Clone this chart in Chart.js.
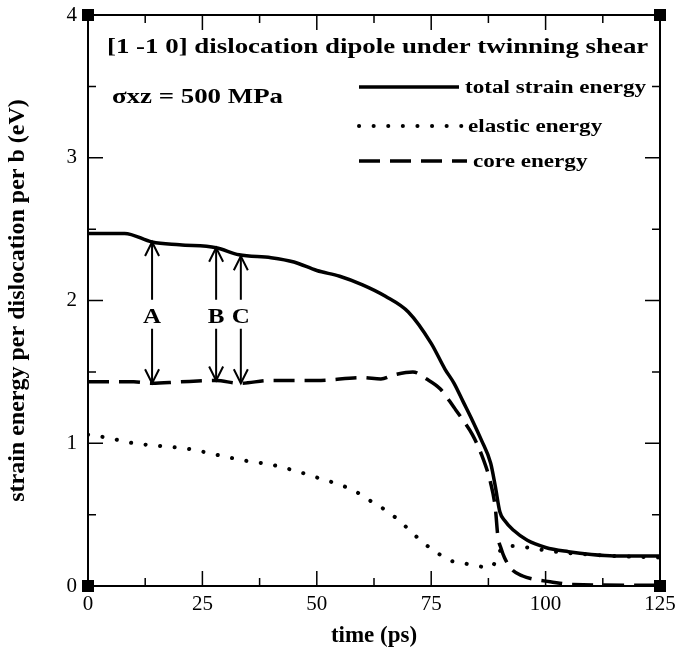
<!DOCTYPE html>
<html>
<head>
<meta charset="utf-8">
<script src="https://cdn.jsdelivr.net/npm/chart.js@4.4.1/dist/chart.umd.min.js"></script>
<style>
  html, body { margin: 0; padding: 0; background: #fff; }
  canvas { display: block; }
</style>
</head>
<body>
<canvas id="energyChart" width="679" height="666"></canvas>
<script>
// values (time in ps, energy in eV)
const TIME_TOTAL = [0, 8, 14, 20, 28, 33, 40, 45, 50, 55, 60, 65, 70, 75, 78, 80, 82, 84, 86, 88, 89, 90, 91, 93, 96, 100, 105, 110, 115, 125];
const TOTAL_ENERGY = [2.47, 2.47, 2.41, 2.39, 2.37, 2.32, 2.30, 2.27, 2.21, 2.17, 2.11, 2.03, 1.92, 1.70, 1.52, 1.42, 1.29, 1.16, 1.02, 0.86, 0.70, 0.52, 0.46, 0.39, 0.32, 0.27, 0.24, 0.22, 0.21, 0.21];

const TIME_ELASTIC = [0, 4, 10, 16, 22, 28, 34, 40, 45, 50, 54, 58, 62, 66, 70, 73, 76, 79, 82, 85, 88, 89.5, 90.5, 93, 96, 100, 105, 110, 115, 125];
const ELASTIC_ENERGY = [1.06, 1.04, 1.00, 0.98, 0.96, 0.92, 0.88, 0.85, 0.81, 0.76, 0.72, 0.67, 0.59, 0.51, 0.40, 0.31, 0.24, 0.18, 0.16, 0.14, 0.13, 0.20, 0.27, 0.28, 0.27, 0.25, 0.23, 0.22, 0.21, 0.20];

const TIME_CORE = [0, 10, 14, 20, 28, 33, 40, 50, 60, 64, 67, 71, 74, 77, 80, 82, 84, 86, 88, 89, 89.6, 90.2, 91, 92.5, 95, 97, 101, 106, 125];
const CORE_ENERGY = [1.43, 1.43, 1.42, 1.43, 1.44, 1.42, 1.44, 1.44, 1.46, 1.45, 1.48, 1.50, 1.45, 1.38, 1.25, 1.16, 1.06, 0.92, 0.72, 0.55, 0.34, 0.27, 0.20, 0.12, 0.07, 0.05, 0.03, 0.01, 0.005];

const X_TICKS = [0, 25, 50, 75, 100, 125];
const Y_TICKS = [0, 1, 2, 3, 4];

const ARROW_TIMES = [14, 28, 33.4];
const ARROW_LOW = [1.42, 1.44, 1.42];
const ARROW_HIGH = [2.41, 2.37, 2.31];
const ARROW_LABELS = ["A", "B", "C"];
const ARROW_LABEL_Y = 1.88;

const SERIES_LABELS = ["total strain energy", "elastic energy", "core energy"];
const TITLE = "[1 -1 0] dislocation dipole under twinning shear";
const STRESS_NOTE = "\u03c3xz = 500 MPa";

const SERIF = '"Liberation Serif", "Times New Roman", serif';
const TEXT_STRETCH = 1.25;

function toPoints(xs, ys) {
  return xs.map((x, i) => ({ x, y: ys[i] }));
}

function stretchText(ctx, text, x, y, size, align) {
  ctx.save();
  ctx.translate(x, y);
  ctx.scale(TEXT_STRETCH, 1);
  ctx.font = `bold ${size}px ${SERIF}`;
  ctx.fillStyle = "#000";
  ctx.textAlign = align || "left";
  ctx.textBaseline = "middle";
  ctx.fillText(text, 0, 0);
  ctx.restore();
}

function arrowHead(ctx, x, y, dir) {
  ctx.beginPath();
  ctx.moveTo(x - 7, y + dir * 14);
  ctx.lineTo(x, y);
  ctx.lineTo(x + 7, y + dir * 14);
  ctx.stroke();
}

const decorPlugin = {
  id: "decor",
  afterDatasetsDraw(chart) {
    const { ctx, chartArea: a, scales: { x, y } } = chart;
    ctx.save();
    ctx.strokeStyle = "#000";
    ctx.fillStyle = "#000";

    // frame
    ctx.lineWidth = 2;
    ctx.strokeRect(a.left, a.top, a.right - a.left, a.bottom - a.top);

    // inward ticks on all four sides
    ctx.lineWidth = 1.5;
    ctx.beginPath();
    for (let i = 0; i < X_TICKS.length; i++) {
      const px = x.getPixelForValue(X_TICKS[i]);
      ctx.moveTo(px, a.bottom); ctx.lineTo(px, a.bottom - 15);
      ctx.moveTo(px, a.top); ctx.lineTo(px, a.top + 15);
      if (i < X_TICKS.length - 1) {
        const mx = x.getPixelForValue((X_TICKS[i] + X_TICKS[i + 1]) / 2);
        ctx.moveTo(mx, a.bottom); ctx.lineTo(mx, a.bottom - 8);
        ctx.moveTo(mx, a.top); ctx.lineTo(mx, a.top + 8);
      }
    }
    for (let i = 0; i < Y_TICKS.length; i++) {
      const py = y.getPixelForValue(Y_TICKS[i]);
      ctx.moveTo(a.left, py); ctx.lineTo(a.left + 15, py);
      ctx.moveTo(a.right, py); ctx.lineTo(a.right - 15, py);
      if (i < Y_TICKS.length - 1) {
        const my = y.getPixelForValue((Y_TICKS[i] + Y_TICKS[i + 1]) / 2);
        ctx.moveTo(a.left, my); ctx.lineTo(a.left + 8, my);
        ctx.moveTo(a.right, my); ctx.lineTo(a.right - 8, my);
      }
    }
    ctx.stroke();

    // corner squares
    [[a.left, a.top], [a.right, a.top], [a.left, a.bottom], [a.right, a.bottom]].forEach(([cx, cy]) => {
      ctx.fillRect(cx - 6, cy - 6, 12, 12);
    });

    // arrows A, B, C
    ctx.lineWidth = 2;
    const labelPy = y.getPixelForValue(ARROW_LABEL_Y);
    ARROW_TIMES.forEach((t, i) => {
      const px = x.getPixelForValue(t);
      const top = y.getPixelForValue(ARROW_HIGH[i]);
      const bot = y.getPixelForValue(ARROW_LOW[i]);
      ctx.beginPath();
      ctx.moveTo(px, top); ctx.lineTo(px, labelPy - 18);
      ctx.moveTo(px, labelPy + 11); ctx.lineTo(px, bot);
      ctx.stroke();
      arrowHead(ctx, px, top, 1);
      arrowHead(ctx, px, bot, -1);
      stretchText(ctx, ARROW_LABELS[i], px, labelPy, 20, "center");
    });

    // title and note
    stretchText(ctx, TITLE, 107, 47, 21.5);
    stretchText(ctx, STRESS_NOTE, 112, 97, 21.5);

    // legend drawn from the dataset styles
    const rows = [87, 126, 161];
    const textX = [465, 468, 473];
    chart.data.datasets.forEach((ds, i) => {
      ctx.save();
      ctx.lineWidth = ds.borderWidth;
      ctx.setLineDash(ds.borderDash || []);
      ctx.lineCap = ds.borderCapStyle || "butt";
      ctx.beginPath();
      ctx.moveTo(359, rows[i]);
      ctx.lineTo(textX[i] - 6, rows[i]);
      ctx.stroke();
      ctx.restore();
      stretchText(ctx, ds.label, textX[i], rows[i] + 1, 18.5);
    });

    ctx.restore();
  }
};

const ctx = document.getElementById("energyChart");
new Chart(ctx, {
  type: "scatter",
  data: {
    datasets: [
      {
        label: SERIES_LABELS[0],
        data: toPoints(TIME_TOTAL, TOTAL_ENERGY),
        showLine: true,
        borderColor: "#000",
        borderWidth: 3.5,
        pointRadius: 0,
        cubicInterpolationMode: "monotone"
      },
      {
        label: SERIES_LABELS[1],
        data: toPoints(TIME_ELASTIC, ELASTIC_ENERGY),
        showLine: true,
        borderColor: "#000",
        borderWidth: 4,
        borderDash: [0.1, 14.5],
        borderCapStyle: "round",
        pointRadius: 0,
        cubicInterpolationMode: "monotone"
      },
      {
        label: SERIES_LABELS[2],
        data: toPoints(TIME_CORE, CORE_ENERGY),
        showLine: true,
        borderColor: "#000",
        borderWidth: 3.5,
        borderDash: [21, 10],
        pointRadius: 0,
        cubicInterpolationMode: "monotone"
      }
    ]
  },
  options: {
    responsive: false,
    animation: false,
    layout: { padding: { top: 15, right: 19, left: 0, bottom: 0 } },
    plugins: {
      legend: { display: false },
      tooltip: { enabled: false }
    },
    scales: {
      x: {
        type: "linear",
        min: 0,
        max: 125,
        afterBuildTicks(scale) { scale.ticks = X_TICKS.map(v => ({ value: v })); },
        ticks: { color: "#000", padding: 6, font: { family: SERIF, size: 21 } },
        grid: { drawOnChartArea: false, drawTicks: false },
        border: { display: false },
        title: {
          display: true,
          text: "time (ps)",
          color: "#000",
          font: { family: SERIF, size: 23, weight: "bold" },
          padding: { top: 0, bottom: 16 }
        },
        afterFit(scale) {
          scale.height = 80;
          scale.paddingLeft = 0;
          scale.paddingRight = 19;
        }
      },
      y: {
        min: 0,
        max: 4,
        afterBuildTicks(scale) { scale.ticks = Y_TICKS.map(v => ({ value: v })); },
        ticks: { color: "#000", padding: 11, font: { family: SERIF, size: 21 } },
        grid: { drawOnChartArea: false, drawTicks: false },
        border: { display: false },
        title: {
          display: true,
          text: "strain energy per dislocation per b (eV)",
          color: "#000",
          font: { family: SERIF, size: 24, weight: "bold" },
          padding: { top: 3, bottom: 0 }
        },
        afterFit(scale) {
          scale.width = 88;
          scale.paddingTop = 15;
          scale.paddingBottom = 0;
        }
      }
    }
  },
  plugins: [decorPlugin]
});
</script>
</body>
</html>
